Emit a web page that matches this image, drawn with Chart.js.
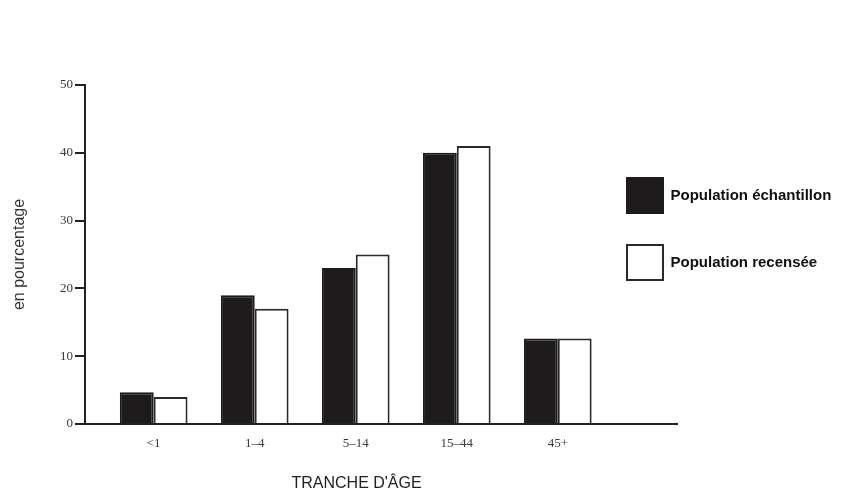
<!DOCTYPE html>
<html><head><meta charset="utf-8">
<script src="https://cdn.jsdelivr.net/npm/chart.js@4/dist/chart.umd.min.js"></script>
<style>html,body{margin:0;padding:0;background:#fff}#wrap{width:859px;height:495px;position:relative}</style>
</head><body><div id="wrap"><canvas id="c"></canvas></div>
<script>
const categories = ['<1', '1–4', '5–14', '15–44', '45+'];
const echantillon = [4.7, 19, 23, 40, 12.6];
const recensee = [4, 17, 25, 41, 12.6];
const yTicks = [0, 10, 20, 30, 40, 50];

new Chart(document.getElementById('c'), {
  type: 'bar',
  data: {
    labels: categories.map((_, i) => i),
    datasets: [
      { label: 'Population échantillon', data: echantillon, backgroundColor: '#1d1b1b', borderColor: '#1d1b1b', borderWidth: 2 },
      { label: 'Population recensée', data: recensee, backgroundColor: '#ffffff', borderColor: '#2a2a2a', borderWidth: 2 }
    ]
  },
  options: {
    responsive: true, maintainAspectRatio: false, animation: false,
    categoryPercentage: 0.67, barPercentage: 1,
    layout: { padding: { top: 85, right: 182, bottom: 0, left: 0 } },
    scales: {
      x: {
        type: 'linear', min: -0.68, max: 5.18, offset: false,
        afterBuildTicks: s => { s.ticks = categories.map((_, i) => ({ value: i })); },
        ticks: { callback: v => categories[v], font: { family: 'Liberation Serif', size: 13 }, color: '#3a3a3a', padding: 12, autoSkip: false, maxRotation: 0 },
        grid: { display: false, drawTicks: false },
        border: { display: true, color: '#222', width: 2 },
        title: { display: true, text: "TRANCHE D'ÂGE" + '\u00A0'.repeat(11), font: { family: 'Liberation Sans', size: 16 }, color: '#222', padding: { top: 0, bottom: 2 } },
        afterFit: s => { s.height = 71; }
      },
      y: {
        min: 0, max: 50,
        afterBuildTicks: s => { s.ticks = yTicks.map(v => ({ value: v })); },
        ticks: { font: { family: 'Liberation Serif', size: 13 }, color: '#3a3a3a', padding: 2 },
        grid: { display: true, drawOnChartArea: false, drawTicks: true, tickLength: 10, color: '#222', lineWidth: 2 },
        border: { display: true, color: '#222', width: 2 },
        title: { display: true, text: 'en pourcentage', font: { family: 'Liberation Sans', size: 16 }, color: '#333', padding: { top: 10, bottom: 0 } },
        afterFit: s => { s.width = 85; }
      }
    },
    plugins: {
      legend: {
        position: 'chartArea', align: 'start',
        labels: { boxWidth: 36, boxHeight: 35, padding: 32, font: { family: 'Liberation Sans', size: 15, weight: 'bold' }, color: '#111' }
      },
      tooltip: { enabled: false }
    }
  },
  plugins: [{ id: 'legendPlace', afterLayout(chart) { const lg = chart.legend; lg.left = 595; lg.top = 146; lg.right = 859; lg.bottom = 495; lg.width = 264; lg.height = 349; } }]
});
</script></body></html>
